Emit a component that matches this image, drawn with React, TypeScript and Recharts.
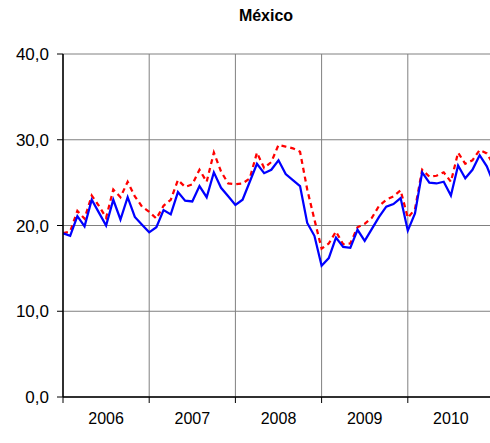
import React from "react";
import { LineChart, Line, XAxis, YAxis, CartesianGrid } from "recharts";

const years = ["2006", "2007", "2008", "2009", "2010"];
const yearBoundaryTicks = [0, 12, 24, 36, 48, 60];
const yearLabelTicks = [6, 18, 30, 42, 54];
const yTicks = [0, 10, 20, 30, 40];

const serieAzul = [
  19.1, 18.8, 21.1, 19.9, 23.0, 21.5, 20.0, 23.0, 20.7, 23.3, 21.0, 20.1,
  19.2, 19.8, 21.8, 21.3, 23.9, 22.9, 22.8, 24.6, 23.3, 26.2, 24.4, 23.4,
  22.4, 23.0, 25.1, 27.2, 26.1, 26.5, 27.6, 26.0, 25.3, 24.6, 20.3, 18.8,
  15.3, 16.2, 18.6, 17.5, 17.4, 19.5, 18.2, 19.6, 21.0, 22.2, 22.5, 23.2,
  19.4, 21.4, 26.2, 25.0, 24.9, 25.1, 23.5, 27.0, 25.5, 26.5, 28.2, 26.9,
  24.8,
];

const serieRoja = [
  19.1, 19.3, 21.7, 20.8, 23.5, 22.3, 20.9, 24.2, 23.3, 25.1, 23.4, 22.2,
  21.6, 20.8, 22.3, 23.0, 25.3, 24.5, 24.8, 26.5, 25.1, 28.5, 26.3, 24.9,
  24.8, 24.9, 25.5, 28.5, 26.7, 27.4, 29.4, 29.2, 29.0, 28.6, 24.2, 20.7,
  17.3, 17.9, 19.3, 17.8, 17.9, 19.8, 20.2, 20.9, 22.3, 23.0, 23.4, 24.1,
  20.9, 21.9, 26.5, 25.7, 25.8, 26.2, 25.1, 28.5, 27.2, 27.6, 28.8, 28.4,
  27.0,
];

const data = serieAzul.map((v, i) => ({ idx: i, azul: v, roja: serieRoja[i] }));

const FONT = '"Liberation Sans", Arial, sans-serif';

const EmptyTick = () => <g />;

export default function App() {
  return (
    <div
      style={{
        position: "absolute",
        left: 0,
        top: 0,
        width: 490,
        height: 443,
        overflow: "hidden",
        background: "#fff",
        fontFamily: FONT,
      }}
    >
      <div
        style={{
          position: "absolute",
          left: 0,
          top: 7,
          width: 532,
          textAlign: "center",
          fontWeight: "bold",
          fontSize: 16,
          color: "#000",
          fontFamily: FONT,
        }}
      >
        México
      </div>
      <LineChart
        width={500}
        height={443}
        data={data}
        margin={{ top: 54, right: 6, bottom: 0, left: 0 }}
      >
        <CartesianGrid
          stroke="#808080"
          strokeWidth={1}
          xAxisId={0}
        />
        <XAxis
          xAxisId={0}
          type="number"
          dataKey="idx"
          domain={[0, 60]}
          ticks={yearBoundaryTicks}
          tick={EmptyTick}
          tickLine={{ stroke: "#000" }}
          tickSize={6}
          axisLine={{ stroke: "#000", strokeWidth: 1.5 }}
          height={6}
          allowDataOverflow
        />
        <XAxis
          xAxisId="labels"
          type="number"
          dataKey="idx"
          domain={[0, 60]}
          ticks={yearLabelTicks}
          tickFormatter={(v: number) => years[Math.round((v - 6) / 12)]}
          tick={{ fill: "#000", fontSize: 16, fontFamily: FONT }}
          tickLine={false}
          axisLine={false}
          tickMargin={4}
          height={40}
          allowDataOverflow
        />
        <YAxis
          domain={[0, 40]}
          ticks={yTicks}
          width={63}
          tickFormatter={(v: number) => v.toFixed(1).replace(".", ",")}
          tick={{ fill: "#000", fontSize: 17, fontFamily: FONT }}
          tickLine={{ stroke: "#000" }}
          tickSize={6}
          tickMargin={8}
          axisLine={{ stroke: "#000", strokeWidth: 1.5 }}
        />
        <Line
          type="linear"
          dataKey="roja"
          stroke="#FF0000"
          strokeWidth={2.25}
          strokeDasharray="5 4"
          dot={false}
          activeDot={false}
          isAnimationActive={false}
        />
        <Line
          type="linear"
          dataKey="azul"
          stroke="#0000FF"
          strokeWidth={2.25}
          dot={false}
          activeDot={false}
          isAnimationActive={false}
        />
      </LineChart>
    </div>
  );
}
